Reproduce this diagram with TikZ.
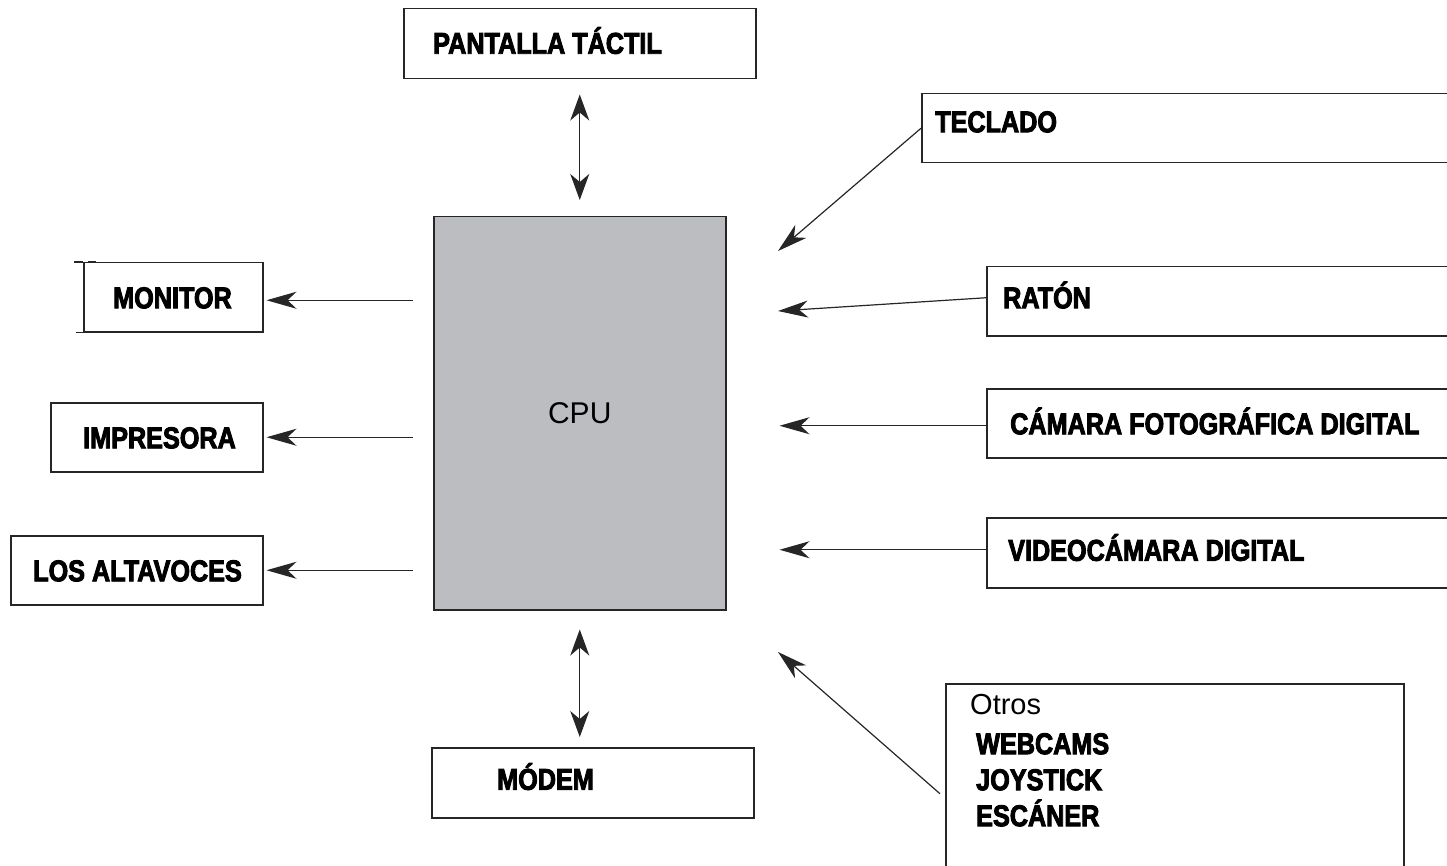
\documentclass[tikz,border=0pt]{standalone}
\usepackage{fontspec}
\setmainfont{Liberation Sans}
\newfontfamily\heavyfont[FakeStretch=0.84,FakeBold=3]{Liberation Sans}
\usetikzlibrary{arrows.meta,positioning}
\definecolor{cpugray}{RGB}{188,189,193}
\tikzset{
  box/.style={draw=black!85, line width=1.5pt, anchor=north west, minimum height=69},
  lbl/.style={inner sep=0, anchor=west, text height=22pt, text depth=0pt, font=\heavyfont\bfseries\fontsize{30}{36}\selectfont},
  arr/.style={line width=1.2pt, black!85, -{Stealth[length=30pt,width=17pt,inset=9pt]}},
  dblarr/.style={line width=1.2pt, black!85, {Stealth[length=26pt,width=19pt,inset=8pt]}-{Stealth[length=26pt,width=19pt,inset=8pt]}}
}
\begin{document}
\begin{tikzpicture}[x=1pt,y=-1pt]
  \clip (0,0) rectangle (1447,866);
  \fill[white] (0,0) rectangle (1447,866);
  % centro
  \node[box, fill=cpugray, minimum width=292, minimum height=393, font=\fontsize{30}{36}\selectfont] (cpu) at (433,216) {CPU};
  % salidas
  \node[box, minimum width=352, minimum height=70] (pantalla) at (403,8) {};
  \node[lbl, right=30pt of pantalla.west, yshift=1pt] (pantallaTxt) {PANTALLA TÁCTIL};
  \node[box, minimum width=179] (monitor) at (83,262) {};
  \node[lbl, right=30pt of monitor.west] (monitorTxt) {MONITOR};
  \node[box, minimum width=212] (impresora) at (50,402) {};
  \node[lbl, right=33pt of impresora.west] (impresoraTxt) {IMPRESORA};
  \node[box, minimum width=252] (altavoces) at (10,535) {};
  \node[lbl, right=23pt of altavoces.west] (altavocesTxt) {LOS ALTAVOCES};
  \node[box, minimum width=322, minimum height=70] (modem) at (431,747) {};
  \node[lbl, right=66pt of modem.west, yshift=4pt] (modemTxt) {MÓDEM};
  % entradas
  \node[box, minimum width=560] (teclado) at (921,93) {};
  \node[lbl, right=14pt of teclado.west, yshift=7pt] (tecladoTxt) {TECLADO};
  \node[box, minimum width=500] (raton) at (986,266) {};
  \node[lbl, right=17pt of raton.west, yshift=4pt] (ratonTxt) {RATÓN};
  \node[box, minimum width=500] (camara) at (986,388) {};
  \node[lbl, right=24pt of camara.west] (camaraTxt) {CÁMARA FOTOGRÁFICA DIGITAL};
  \node[box, minimum width=500, minimum height=70] (video) at (986,517) {};
  \node[lbl, right=22pt of video.west, yshift=3pt] (videoTxt) {VIDEOCÁMARA DIGITAL};
  \node[box, minimum width=458, minimum height=220] (otros) at (945,683) {};
  \node[inner sep=0, anchor=north west, font=\fontsize{29}{36}\selectfont] (otrosTxt) at (970,694) {Otros};
  \node[inner sep=0, anchor=north west, align=left, font=\heavyfont\bfseries\fontsize{30}{36}\selectfont] (otrosList) at (976,733) {WEBCAMS\\JOYSTICK\\ESCÁNER};
  % resto del borde del monitor
  \draw[black!85, line width=1.5pt] (monitor.north west) -- ++(-9,0);
  \draw[black!85, line width=1.5pt] (monitor.south west) -- ++(-7,0);
  \draw[black!85, line width=2pt] ([xshift=5pt]monitor.north west) -- ++(8,0);
  % puntos libres junto a la CPU
  \coordinate (inTeclado) at (778,251);
  \coordinate (inRaton) at (778,311);
  \coordinate (inOtros) at (778,652);
  % flechas
  \draw[dblarr, shorten <=15pt, shorten >=16pt] (pantalla.south -| cpu.north) -- (cpu.north);
  \draw[dblarr, shorten <=19pt, shorten >=10pt] (cpu.south) -- (cpu.south |- modem.north);
  \draw[arr, shorten <=20pt, shorten >=3pt] ([yshift=-3pt]cpu.west |- monitor.east) -- ([yshift=-3pt]monitor.east);
  \draw[arr, shorten <=20pt, shorten >=3pt] (cpu.west |- impresora.east) -- (impresora.east);
  \draw[arr, shorten <=20pt, shorten >=3pt] (cpu.west |- altavoces.east) -- (altavoces.east);
  \draw[arr] (teclado.west) -- (inTeclado);
  \draw[arr] ([yshift=3.5pt]raton.west) -- (inRaton);
  \draw[arr, shorten >=53pt] ([yshift=-2.5pt]camara.west) -- ([yshift=-2.5pt]cpu.east |- camara.west);
  \draw[arr, shorten >=53pt] ([yshift=3pt]video.west) -- ([yshift=3pt]cpu.east |- video.west);
  \draw[arr] ([xshift=-5pt]otros.west) -- (inOtros);
\end{tikzpicture}
\end{document}
